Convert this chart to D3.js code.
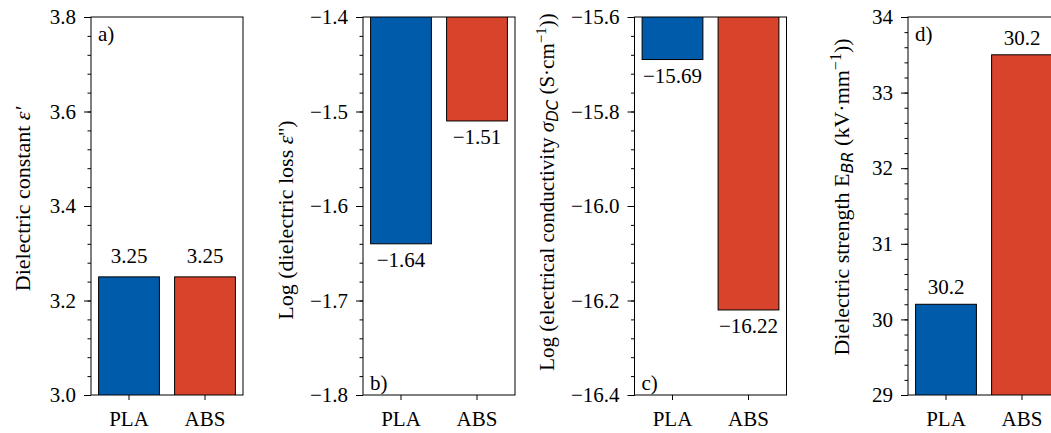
<!DOCTYPE html>
<html>
<head>
<meta charset="utf-8">
<script src="https://cdn.jsdelivr.net/npm/d3@7"></script>
<style>
  html, body { margin: 0; padding: 0; background: #fff; }
  svg { display: block; }
  text { font-family: "Liberation Serif", "Times New Roman", serif; fill: #000; }
</style>
</head>
<body>
<svg id="chart" width="1051" height="433"></svg>
<script>
// ---------------- data ----------------
const categories = ["PLA", "ABS"];
const dielectricConstant = [3.25, 3.25];
const logDielectricLoss = [-1.64, -1.51];
const logConductivity = [-15.69, -16.22];
const dielectricStrength = [30.2, 33.5];

const constantLabels = ["3.25", "3.25"];
const lossLabels = ["\u22121.64", "\u22121.51"];
const conductivityLabels = ["\u221215.69", "\u221216.22"];
const strengthLabels = ["30.2", "30.2"];

const ticksA = [3.0, 3.2, 3.4, 3.6, 3.8];
const ticksB = [-1.8, -1.7, -1.6, -1.5, -1.4];
const ticksC = [-16.4, -16.2, -16.0, -15.8, -15.6];
const ticksD = [29, 30, 31, 32, 33, 34];

const seriesColors = ["#005BAA", "#D8432C"];

// ---------------- layout ----------------
const plotTop = 17, plotBottom = 395, panelW = 152;
const FS = "21px";

const panels = [
  { left: 91, values: dielectricConstant, labels: constantLabels, ticks: ticksA, minorStep: 0.04,
    fmt: d3.format(".1f"), labelPos: "above", labelOff: 14, tag: "a)", tagPos: "top",
    ylabX: 30, ylabY: 199, ylabFS: 22,
    ylab: [{t: "Dielectric constant "}, {t: "\u03b5'", italic: true}] },
  { left: 363, values: logDielectricLoss, labels: lossLabels, ticks: ticksB, minorStep: 0.02,
    fmt: d3.format(".1f"), labelPos: "below", labelOff: 23, tag: "b)", tagPos: "bottom",
    ylabX: 293, ylabY: 220, ylabFS: 22,
    ylab: [{t: "Log (dielectric loss "}, {t: "\u03b5", italic: true}, {t: "'')"}] },
  { left: 634.5, values: logConductivity, labels: conductivityLabels, ticks: ticksC, minorStep: 0.04,
    fmt: d3.format(".1f"), labelPos: "below", labelOff: 23, tag: "c)", tagPos: "bottom",
    ylabX: 554, ylabY: 192, ylabFS: 21,
    ylab: [{t: "Log (electrical conductivity "}, {t: "\u03c3", italic: true},
           {t: "DC", sub: true}, {t: " (S\u00b7cm", back: true}, {t: "\u22121", sup: true}, {t: "))", back2: true}] },
  { left: 908, values: dielectricStrength, labels: strengthLabels, ticks: ticksD, minorStep: 0.2,
    fmt: d3.format("d"), labelPos: "above", labelOff: 10, tag: "d)", tagPos: "top",
    ylabX: 849, ylabY: 197, ylabFS: 22,
    ylab: [{t: "Dielectric strength E"}, {t: "BR", sub: true}, {t: " (kV\u00b7mm", back: true},
           {t: "\u22121", sup: true}, {t: "))", back2: true}] }
];

const svg = d3.select("#chart");
const defs = svg.append("defs");

panels.forEach((p, i) => {
  const dom = [p.ticks[0], p.ticks[p.ticks.length - 1]];
  const x = d3.scaleBand().domain(categories).range([p.left, p.left + panelW])
    .paddingInner(0.2).paddingOuter(0.1);
  const y = d3.scaleLinear().domain(dom).range([plotBottom, plotTop]);

  const clipId = "clip" + i;
  defs.append("clipPath").attr("id", clipId)
    .append("rect").attr("x", p.left).attr("y", plotTop)
    .attr("width", panelW).attr("height", plotBottom - plotTop);

  const g = svg.append("g");

  // bars (matplotlib style: from 0 to value, clipped to axes)
  g.append("g").attr("clip-path", `url(#${clipId})`)
    .selectAll("rect").data(p.values).join("rect")
    .attr("x", (d, j) => x(categories[j]))
    .attr("width", x.bandwidth())
    .attr("y", d => Math.min(y(0), y(d)))
    .attr("height", d => Math.abs(y(0) - y(d)))
    .attr("fill", (d, j) => seriesColors[j])
    .attr("stroke", "#000").attr("stroke-width", 1);

  // value labels
  g.selectAll("text.val").data(p.values).join("text")
    .attr("class", "val")
    .attr("x", (d, j) => x(categories[j]) + x.bandwidth() / 2)
    .attr("y", d => p.labelPos === "above" ? y(d) - p.labelOff : y(d) + p.labelOff)
    .attr("text-anchor", "middle")
    .style("font-size", FS)
    .text((d, j) => p.labels[j]);

  // minor ticks
  const minor = d3.range(0, Math.round((dom[1] - dom[0]) / p.minorStep) + 1)
    .map(k => dom[0] + k * p.minorStep);
  g.append("g").attr("transform", `translate(${p.left},0)`)
    .call(d3.axisLeft(y).tickValues(minor).tickSize(3.5).tickFormat(""))
    .call(s => s.select(".domain").remove())
    .call(s => s.selectAll("line").attr("stroke", "#000").attr("stroke-width", 1));

  // major ticks
  g.append("g").attr("transform", `translate(${p.left},0)`)
    .call(d3.axisLeft(y).tickValues(p.ticks).tickSize(7).tickPadding(8).tickFormat(p.fmt))
    .call(s => s.select(".domain").remove())
    .call(s => s.selectAll("line").attr("stroke", "#000").attr("stroke-width", 1))
    .call(s => s.selectAll("text").style("font-size", FS)
      .style("font-family", "'Liberation Serif', serif").attr("fill", "#000"));

  // x axis
  g.append("g").attr("transform", `translate(0,${plotBottom})`)
    .call(d3.axisBottom(x).tickSize(5).tickPadding(11))
    .call(s => s.select(".domain").remove())
    .call(s => s.selectAll("line").attr("stroke", "#000").attr("stroke-width", 1))
    .call(s => s.selectAll("text").style("font-size", FS)
      .style("font-family", "'Liberation Serif', serif").attr("fill", "#000"));

  // frame
  g.append("rect").attr("x", p.left).attr("y", plotTop)
    .attr("width", panelW).attr("height", plotBottom - plotTop)
    .attr("fill", "none").attr("stroke", "#000").attr("stroke-width", 1);

  // panel tag
  g.append("text")
    .attr("x", p.left + 7)
    .attr("y", p.tagPos === "top" ? 41 : 390)
    .style("font-size", FS)
    .text(p.tag);

  // y label
  const yl = g.append("text")
    .attr("transform", `translate(${p.ylabX},${p.ylabY}) rotate(-90)`)
    .attr("text-anchor", "middle")
    .style("font-size", p.ylabFS + "px");
  const small = Math.round(p.ylabFS * 0.72) + "px";
  p.ylab.forEach(s => {
    const ts = yl.append("tspan").text(s.t);
    if (s.italic) ts.style("font-style", "italic");
    if (s.sub) ts.attr("dy", 4).style("font-size", small).style("font-style", "italic")
      .style("font-family", "'DejaVu Sans', sans-serif");
    if (s.back) ts.attr("dy", -4);
    if (s.sup) ts.attr("dy", -8).style("font-size", small);
    if (s.back2) ts.attr("dy", 8);
  });
});
</script>
</body>
</html>
